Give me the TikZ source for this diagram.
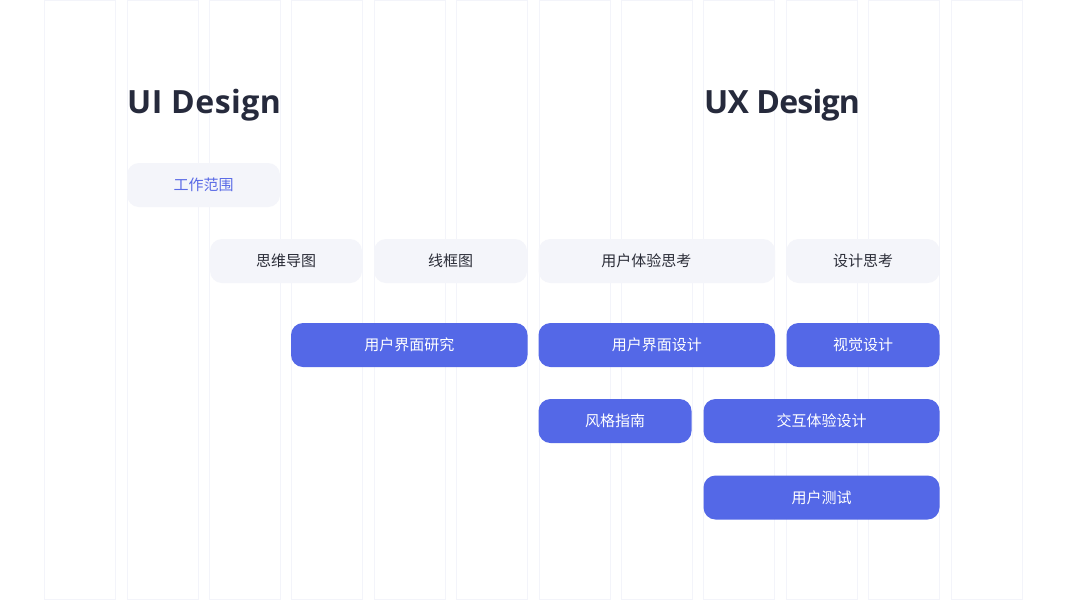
\documentclass[tikz,border=0pt]{standalone}
\usepackage{fontspec}
\setmainfont{Noto Sans}
\newfontfamily\cjk{Noto Sans CJK SC}
\newfontfamily\titlefont{Open Sans}[LetterSpace=1.5]
\newfontfamily\titlefontb{Open Sans}[LetterSpace=-2.5]
\definecolor{gridc}{HTML}{F3F4FA}
\definecolor{bluec}{HTML}{5468E7}
\definecolor{grayc}{HTML}{F4F5FA}
\definecolor{titlec}{HTML}{262A3C}
\definecolor{darktext}{HTML}{2B2D38}
\definecolor{bluetext}{HTML}{5A6AE6}
\begin{document}
\begin{tikzpicture}[x=1pt,y=-1pt,
  gridcol/.style={draw=gridc,line width=0.6pt,fill=white},
  boxbase/.style={rounded corners=12pt,minimum height=44pt,inner sep=0pt,font=\cjk\fontsize{15pt}{18pt}\selectfont},
  graybox/.style={boxbase,fill=grayc,text=darktext},
  scopebox/.style={boxbase,fill=grayc,text=bluetext},
  bluebox/.style={boxbase,fill=bluec,text=white},
  title/.style={anchor=base west,inner sep=0pt,text=titlec,font=\titlefont\bfseries\fontsize{32pt}{36pt}\selectfont},
  titleb/.style={title,font=\titlefontb\bfseries\fontsize{32pt}{36pt}\selectfont}]
\useasboundingbox (0,0) rectangle (1067,600);
\fill[white] (0,0) rectangle (1067,600);
% grid columns
\foreach \i in {0,...,11}{
  \draw[gridcol] ({44.5+82.4*\i},0.5) rectangle ({115.5+82.4*\i},599.5);
}
% titles
\node[title] (uit) at (127,113.5) {UI Design};
\node[titleb] (uxt) at (704,113.5) {UX Design};
% row 1
\node[scopebox,minimum width=153pt] (scope) at (203.5,185) {工作范围};
% row 2
\node[graybox,minimum width=152pt] (mind) at (286,261) {思维导图};
\node[graybox,minimum width=153pt] (wire) at (450.5,261) {线框图};
\node[graybox,minimum width=236.5pt] (uxthink) at (656.75,261) {用户体验思考\hspace*{21pt}};
\node[graybox,minimum width=153pt] (dthink) at (863,261) {设计思考};
% row 3
\node[bluebox,minimum width=236.5pt] (uires) at (409.25,345) {用户界面研究};
\node[bluebox,minimum width=236.5pt] (uides) at (656.75,345) {用户界面设计};
\node[bluebox,minimum width=153pt] (visual) at (863,345) {视觉设计};
% row 4
\node[bluebox,minimum width=153pt] (style) at (615,421) {风格指南};
\node[bluebox,minimum width=236pt] (ixd) at (821.5,421) {交互体验设计};
% row 5
\node[bluebox,minimum width=236pt] (test) at (821.5,497.5) {用户测试};
\end{tikzpicture}
\end{document}
